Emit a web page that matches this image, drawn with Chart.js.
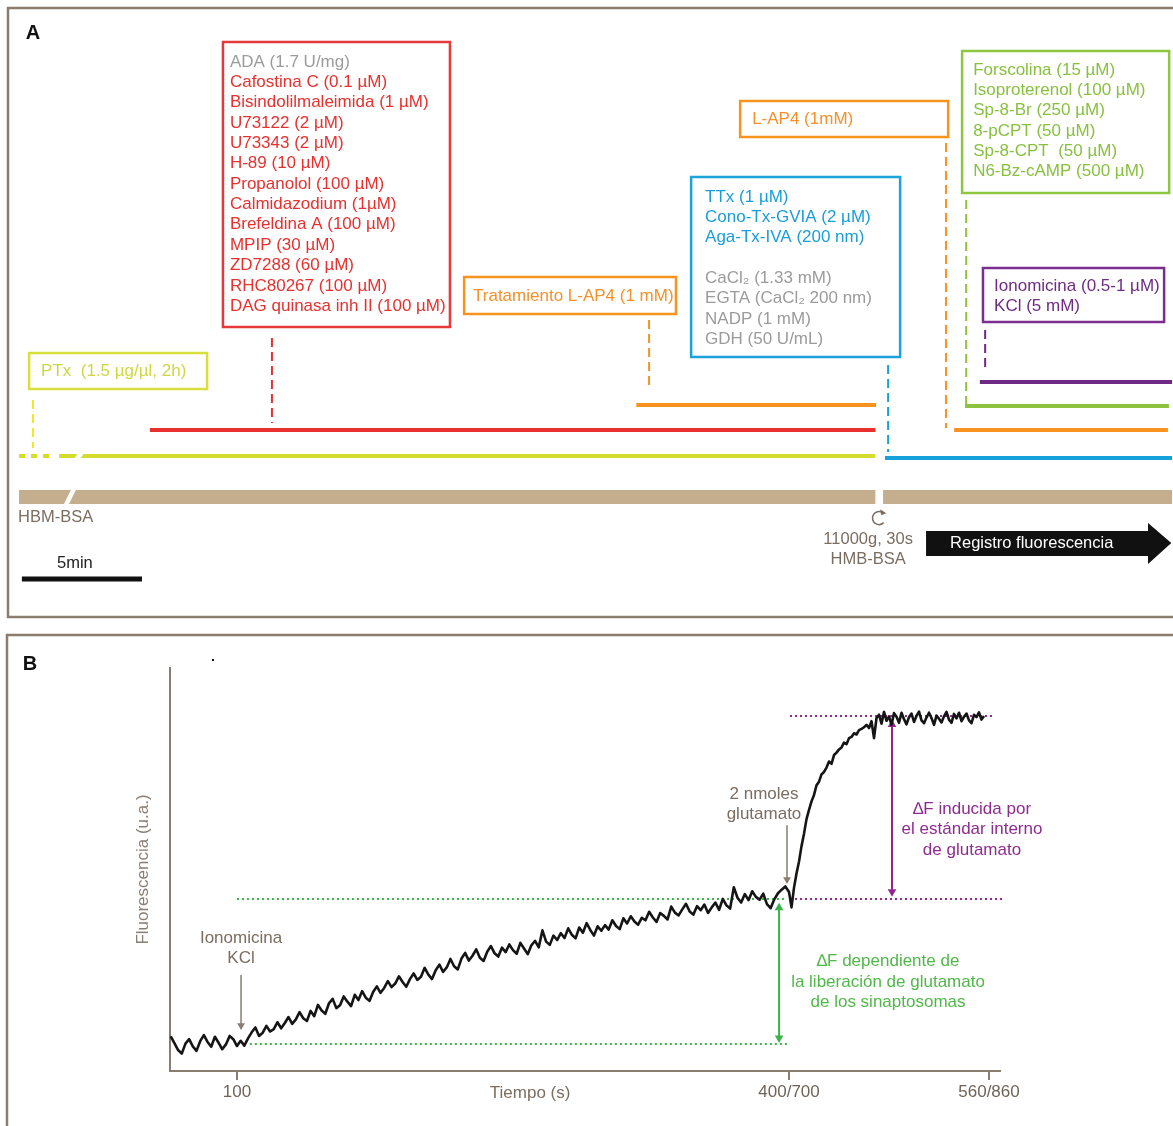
<!DOCTYPE html>
<html>
<head>
<meta charset="utf-8">
<script src="https://cdn.jsdelivr.net/npm/chart.js@4.4.0/dist/chart.umd.min.js"></script>
<style>
body { margin: 0; background: #fff; }
#wrap { position: relative; width: 1173px; height: 1126px; overflow: hidden; background: #fff; }
canvas { position: absolute; left: 0; }
#chartA { top: 0; }
#chartB { top: 625px; }
</style>
</head>
<body>
<div id="wrap">
<canvas id="chartA" width="1173" height="625"></canvas>
<canvas id="chartB" width="1173" height="501"></canvas>
</div>
<script>
var FONT = '"Liberation Sans", Arial, sans-serif';
var BROWN = '#8b7d6d';
var BROWN_TXT = '#7b6d60';
var GRAY = '#9b9b9b';

// ---------- panel A : protocol timeline (minutes) ----------
var treatNames = ['PTx', 'Inhibidores', 'Tratamiento L-AP4', 'Bloqueantes', 'L-AP4', 'AMPc', 'Ionomicina/KCl'];
var treatStart = [1.67, 5.45, 25.7, 36.05, 38.93, 39.38, 40.0];
var treatEnd   = [35.65, 35.65, 35.68, 48, 47.83, 47.87, 48];
var treatLane  = [1.64, 2.68, 3.68, 1.56, 2.68, 3.64, 4.6];
var ptxLeadEnd = 1.5;            // dotted part of the 2 h PTx incubation
var bufferStart = [0, 35.97];    // HBM-BSA, then spin and HMB-BSA
var bufferEnd   = [35.65, 48];
var scaleBar = [0.12, 5.12];     // 5 min

// dashed pointers from each label to its line
var connTime   = [0.58, 10.53, 26.23, 36.18, 38.59, 39.43, 40.22];
var connTop    = [3.88, 6.36, 7.08, 5.28, 14.16, 11.88, 6.68];
var connBottom = [1.96, 2.96, 4.36, 1.8, 2.76, 3.72, 5.0];

var boxLines = [
  ['PTx  (1.5 µg/µl, 2h)'],
  ['ADA (1.7 U/mg)', 'Cafostina C (0.1 µM)', 'Bisindolilmaleimida (1 µM)', 'U73122 (2 µM)', 'U73343 (2 µM)',
   'H-89 (10 µM)', 'Propanolol (100 µM)', 'Calmidazodium (1µM)', 'Brefeldina A (100 µM)', 'MPIP (30 µM)',
   'ZD7288 (60 µM)', 'RHC80267 (100 µM)', 'DAG quinasa inh II (100 µM)'],
  ['Tratamiento L-AP4 (1 mM)'],
  ['TTx (1 µM)', 'Cono-Tx-GVIA (2 µM)', 'Aga-Tx-IVA (200 nm)', '', 'CaCl\u2082 (1.33 mM)',
   'EGTA (CaCl\u2082 200 nm)', 'NADP (1 mM)', 'GDH (50 U/mL)'],
  ['L-AP4 (1mM)'],
  ['Forscolina (15 µM)', 'Isoproterenol (100 µM)', 'Sp-8-Br (250 µM)', '8-pCPT (50 µM)', 'Sp-8-CPT  (50 µM)', 'N6-Bz-cAMP (500 µM)'],
  ['Ionomicina (0.5-1 µM)', 'KCl (5 mM)']
];
var boxGray = [[], [0], [], [4, 5, 6, 7], [], [], []];

// styles / layout of panel A
var treatColor = ['#d4dc2c', '#e8312f', '#f7931e', '#17a1db', '#f7931e', '#8dc33f', '#6f2a86'];
var boxStroke  = ['#d8df3c', '#e43a3b', '#f7941d', '#1ca3dc', '#f7941d', '#8dc63f', '#7b2e8e'];
var boxText    = ['#cfd645', '#e8312f', '#f5902a', '#1a9dd9', '#f5902a', '#89c040', '#6f2b85'];
var connColor  = ['#f3e52a', '#e8312f', '#f7931e', '#17a1db', '#f7931e', '#8dc33f', '#6f2a86'];
var boxLeft   = [0.42, 8.49, 18.53, 27.98, 30.02, 39.26, 40.13];
var boxRight  = [7.83, 17.94, 27.35, 36.68, 38.68, 47.88, 47.67];
var boxTop    = [5.76, 18.2, 8.8, 12.8, 15.84, 17.84, 9.16];
var boxBottom = [4.32, 6.8, 7.32, 5.6, 14.4, 12.16, 7.0];
var boxTextX  = [0.92, 8.78, 18.9, 28.56, 30.52, 39.72, 40.59];
var boxFirst  = [5.04, 17.4, 8.04, 12.0, 15.12, 17.08, 8.44];
var lineStep = 0.814;

function seg(x0, x1, y0, y1) { return [{x: x0, y: y0}, {x: x1, y: y1}]; }

var dsA = [];
for (var i = 0; i < treatNames.length; i++) {
  dsA.push({ label: treatNames[i], data: seg(treatStart[i], treatEnd[i], treatLane[i], treatLane[i]),
    borderColor: treatColor[i], borderWidth: 4 });
}
dsA.push({ label: 'PTx 2h', data: seg(0, ptxLeadEnd, treatLane[0], treatLane[0]),
  borderColor: treatColor[0], borderWidth: 4, borderDash: [6, 6] });
for (var i = 0; i < bufferStart.length; i++) {
  dsA.push({ label: 'tampón', data: seg(bufferStart[i], bufferEnd[i], 0, 0), borderColor: '#c4ae8e', borderWidth: 14 });
}
for (var i = 0; i < connTime.length; i++) {
  dsA.push({ label: 'c' + i, data: seg(connTime[i], connTime[i], connTop[i], connBottom[i]),
    borderColor: connColor[i], borderWidth: 2, borderDash: [9, 5] });
}
dsA.push({ label: '5min', data: seg(scaleBar[0], scaleBar[1], -3.28, -3.28), borderColor: '#111', borderWidth: 5 });
dsA.forEach(function (d) { d.showLine = true; d.pointRadius = 0; d.borderCapStyle = 'butt'; d.clip = false; });

var panelA = {
  id: 'panelA',
  afterDatasetsDraw: function (chart) {
    var ctx = chart.ctx, xs = chart.scales.x, ys = chart.scales.y;
    var X = function (t) { return xs.getPixelForValue(t); };
    var Y = function (v) { return ys.getPixelForValue(v); };
    ctx.save();
    // break marks
    function brk(t, v, slant, half, h) {
      var cx = X(t), cy = Y(v);
      ctx.fillStyle = '#fff';
      ctx.beginPath();
      ctx.moveTo(cx + slant - half, cy - h); ctx.lineTo(cx + slant + half, cy - h);
      ctx.lineTo(cx - slant + half, cy + h); ctx.lineTo(cx - slant - half, cy + h);
      ctx.closePath(); ctx.fill();
    }
    brk(2.12, 0, 4, 2.5, 8);
    brk(2.5, treatLane[0], 2, 3, 3);

    // label boxes
    ctx.font = '17px ' + FONT; ctx.textBaseline = 'middle'; ctx.textAlign = 'left';
    for (var i = 0; i < boxLines.length; i++) {
      ctx.strokeStyle = boxStroke[i]; ctx.lineWidth = 2.5;
      ctx.strokeRect(X(boxLeft[i]), Y(boxTop[i]), X(boxRight[i]) - X(boxLeft[i]), Y(boxBottom[i]) - Y(boxTop[i]));
      for (var j = 0; j < boxLines[i].length; j++) {
        ctx.fillStyle = boxGray[i].indexOf(j) >= 0 ? GRAY : boxText[i];
        ctx.fillText(boxLines[i][j], X(boxTextX[i]), Y(boxFirst[i] - j * lineStep));
      }
    }

    // buffer labels
    ctx.fillStyle = BROWN_TXT; ctx.font = '16.5px ' + FONT;
    ctx.fillText('HBM-BSA', X(-0.04), Y(-0.8));
    ctx.textAlign = 'center';
    ctx.fillText('11000g, 30s', X(35.35), Y(-1.68));
    ctx.fillText('HMB-BSA', X(35.35), Y(-2.48));
    ctx.textAlign = 'left'; ctx.fillStyle = '#222';
    ctx.fillText('5min', X(1.58), Y(-2.64));

    // centrifuge symbol
    var cx = X(35.8), cy = Y(-0.84);
    ctx.strokeStyle = BROWN_TXT; ctx.lineWidth = 1.5;
    ctx.beginPath(); ctx.arc(cx, cy, 6.5, -Math.PI / 3, Math.PI / 4, true); ctx.stroke();
    var ax = cx + 6.5 * Math.cos(-Math.PI / 3), ay = cy + 6.5 * Math.sin(-Math.PI / 3);
    ctx.fillStyle = BROWN_TXT;
    ctx.beginPath(); ctx.moveTo(ax + 4, ay + 1); ctx.lineTo(ax - 2, ay - 3); ctx.lineTo(ax - 1, ay + 3); ctx.closePath(); ctx.fill();

    // recording arrow
    ctx.fillStyle = '#111';
    ctx.beginPath();
    ctx.moveTo(X(37.76), Y(-1.36)); ctx.lineTo(X(47.0), Y(-1.36)); ctx.lineTo(X(47.0), Y(-1.04));
    ctx.lineTo(X(47.97), Y(-1.84)); ctx.lineTo(X(47.0), Y(-2.68)); ctx.lineTo(X(47.0), Y(-2.36));
    ctx.lineTo(X(37.76), Y(-2.36)); ctx.closePath(); ctx.fill();
    ctx.fillStyle = '#fff'; ctx.font = '16.5px ' + FONT;
    ctx.fillText('Registro fluorescencia', X(38.76), Y(-1.84));
    ctx.restore();
  },
  afterDraw: function (chart) {
    var ctx = chart.ctx;
    ctx.save();
    ctx.strokeStyle = BROWN; ctx.lineWidth = 2.5;
    ctx.strokeRect(8, 8, 1190, 609);
    ctx.fillStyle = '#111'; ctx.font = 'bold 20px ' + FONT;
    ctx.textAlign = 'center'; ctx.textBaseline = 'middle';
    ctx.fillText('A', 33, 33);
    ctx.restore();
  }
};

new Chart(document.getElementById('chartA'), {
  type: 'scatter',
  data: { datasets: dsA },
  options: {
    responsive: false, animation: false, events: [],
    layout: { padding: 0 },
    plugins: { legend: { display: false }, tooltip: { enabled: false } },
    scales: {
      x: { type: 'linear', display: false, min: -0.791, max: 48.04 },
      y: { type: 'linear', display: false, min: -5.12, max: 19.88 }
    }
  },
  plugins: [panelA]
});

// ---------- panel B : fluorescence trace ----------
var tickValues = [100, 400, 560];
var tickLabels = ['100', '400/700', '560/860'];
var traceTime = [
  64, 66, 68, 70, 72, 74, 76, 78, 80, 82,
  84, 86, 88, 90, 92, 94, 96, 98, 100, 102,
  104, 106, 108, 110, 112, 114, 116, 118, 120, 122,
  124, 126, 128, 130, 132, 134, 136, 138, 140, 142,
  144, 146, 148, 150, 152, 154, 156, 158, 160, 162,
  164, 166, 168, 170, 172, 174, 176, 178, 180, 182,
  184, 186, 188, 190, 192, 194, 196, 198, 200, 202,
  204, 206, 208, 210, 212, 214, 216, 218, 220, 222,
  224, 226, 228, 230, 232, 234, 236, 238, 240, 242,
  244, 246, 248, 250, 252, 254, 256, 258, 260, 262,
  264, 266, 268, 270, 272, 274, 276, 278, 280, 282,
  284, 286, 288, 290, 292, 294, 296, 298, 300, 302,
  304, 306, 308, 310, 312, 314, 316, 318, 320, 322,
  324, 326, 328, 330, 332, 334, 336, 338, 340, 342,
  344, 346, 348, 350, 352, 354, 356, 358, 360, 362,
  364, 366, 368, 370, 372, 374, 376, 378, 380, 382,
  384, 386, 388, 390, 392, 394, 396, 398, 400,
  402, 404, 406, 408, 410, 412, 414, 416, 418, 420,
  422, 424, 426, 428, 430, 432, 434, 436, 438, 440,
  442, 444, 446, 448, 450, 452, 454, 456, 458, 460,
  462, 464, 466, 468, 470, 472, 474, 476, 478, 480,
  482, 484, 486, 488, 490, 492, 494, 496, 498, 500,
  502, 504, 506, 508, 510, 512, 514, 516, 518, 520,
  522, 524, 526, 528, 530, 532, 534, 536, 538, 540,
  542, 544, 546, 548, 550, 552, 554, 556
];
var traceF = [
  8.6, 6.9, 5.2, 4.3, 6.8, 7.9, 6.1, 5.0, 7.4, 8.9,
  7.2, 6.0, 8.5, 7.0, 5.4, 6.6, 8.7, 7.9, 6.2, 7.5,
  6.3, 8.1, 9.6, 10.8, 8.7, 9.5, 11.2, 9.8, 10.4, 12.1,
  10.6, 11.9, 13.4, 11.7, 12.8, 14.6, 13.1, 12.4, 14.9, 13.6,
  16.4, 15.0, 14.2, 16.8, 17.9, 15.6, 16.3, 18.5, 17.2, 16.1,
  18.9, 17.6, 19.8, 18.2, 17.4, 19.6, 21.0, 19.4, 20.6, 22.3,
  20.8, 21.7, 23.5, 22.1, 20.9, 22.8, 24.2, 22.6, 23.4, 25.6,
  23.9, 22.8, 25.0, 26.4, 24.6, 25.7, 27.8, 26.0, 25.2, 27.9,
  29.3, 27.4, 28.6, 30.2, 28.1, 27.3, 29.6, 31.0, 29.2, 28.4,
  30.6, 29.5, 31.4, 30.0, 29.1, 31.8, 30.4, 29.0, 31.2, 32.3,
  30.7, 34.9, 32.1, 31.3, 33.6, 32.5, 34.2, 33.0, 35.4, 33.8,
  32.9, 35.6, 34.3, 36.7, 35.0, 33.6, 35.9, 34.8, 36.2, 35.1,
  37.4, 36.0, 35.2, 37.9, 36.6, 38.4, 37.1, 36.3, 38.0, 37.4,
  39.5, 38.1, 37.0, 39.2, 38.5, 37.6, 40.8, 39.3, 38.6, 40.1,
  41.5, 39.6, 38.8, 40.9, 39.9, 41.3, 39.2, 40.6, 41.8, 40.0,
  42.7, 41.1, 40.3, 45.6, 43.0, 41.8, 43.9, 42.4, 44.6, 43.2,
  42.5, 44.0, 41.4, 40.4, 42.6, 44.1, 45.0, 45.8, 44.4,
  40.6, 45.5, 49.0, 52.0, 55.8, 58.9, 62.5, 64.8, 66.9, 68.5,
  70.9, 71.8, 73.6, 74.2, 75.3, 76.8, 76.2, 78.4, 79.0, 79.8,
  80.3, 81.5, 81.1, 82.6, 82.9, 83.8, 83.5, 84.6, 84.9, 85.3,
  85.9, 85.1, 86.8, 82.6, 87.6, 88.4, 86.2, 89.1, 86.9, 88.0,
  85.9, 88.8, 87.9, 86.4, 88.9, 87.3, 86.0, 87.8, 88.7, 86.6,
  88.1, 89.2, 87.0, 86.3, 87.7, 88.9, 87.6, 85.9, 88.2, 87.4,
  86.5, 88.0, 89.1, 87.2, 86.4, 88.6, 87.5, 88.9, 86.8, 87.9,
  88.7, 87.0, 86.3, 88.4, 87.8, 89.0, 87.2, 88.1
];
var baseF = 6.7, stimF = 42.7, stdF = 88.1;   // reference levels

// the time axis is drawn with a break at 400 s
var xBreak = 400, xBreakFrac = 0.7458;
class BrokenScale extends Chart.LinearScale {
  getPixelForValue(value) {
    var f = value <= xBreak
      ? xBreakFrac * (value - this.min) / (xBreak - this.min)
      : xBreakFrac + (1 - xBreakFrac) * (value - xBreak) / (this.max - xBreak);
    return this.getPixelForDecimal(f);
  }
}
BrokenScale.id = 'broken';
BrokenScale.defaults = Chart.LinearScale.defaults;
Chart.register(BrokenScale);

var trace = traceTime.map(function (t, i) { return {x: t, y: traceF[i]}; });
var GREEN = '#3cb44b', PURPLE = '#93278f';
var dsB = [
  { label: 'Fluorescencia', data: trace, borderColor: '#151515', borderWidth: 2.6, borderJoinStyle: 'round' },
  { label: 'g1', data: seg(100, 398.9, stimF, stimF), borderColor: GREEN, borderWidth: 2, borderDash: [2, 3] },
  { label: 'p1', data: seg(400.8, 570.4, stimF, stimF), borderColor: PURPLE, borderWidth: 2, borderDash: [2, 3] },
  { label: 'g0', data: seg(107, 400.8, baseF, baseF), borderColor: GREEN, borderWidth: 2, borderDash: [2, 3] },
  { label: 'p2', data: seg(400.8, 563.2, stdF, stdF), borderColor: PURPLE, borderWidth: 2, borderDash: [2, 3] },
  { label: 'dF1', data: seg(394.6, 394.6, 40.5, 8.2), borderColor: GREEN, borderWidth: 2,
    pointStyle: 'triangle', pointRadius: 5, pointRotation: [0, 180], pointBackgroundColor: GREEN, pointBorderWidth: 0 },
  { label: 'dF2', data: seg(482.4, 482.4, 86.0, 44.5), borderColor: PURPLE, borderWidth: 2,
    pointStyle: 'triangle', pointRadius: 5, pointRotation: [0, 180], pointBackgroundColor: PURPLE, pointBorderWidth: 0 },
  { label: 'iono', data: seg(102.2, 102.2, 23.8, 11.3), borderColor: BROWN, borderWidth: 1.5,
    pointStyle: 'triangle', pointRadius: [0, 4.5], pointRotation: 180, pointBackgroundColor: BROWN, pointBorderWidth: 0 },
  { label: 'glu', data: seg(398.9, 398.9, 61.0, 47.5), borderColor: BROWN, borderWidth: 1.5,
    pointStyle: 'triangle', pointRadius: [0, 4.5], pointRotation: 180, pointBackgroundColor: BROWN, pointBorderWidth: 0 }
];
dsB.forEach(function (d) {
  d.showLine = true; d.clip = false;
  if (!d.borderJoinStyle) d.borderCapStyle = 'butt';
  if (d.pointRadius === undefined) d.pointRadius = 0;
});

var annText  = ['Ionomicina', 'KCl', '2 nmoles', 'glutamato',
                '\u2206F inducida por', 'el estándar interno', 'de glutamato',
                '\u2206F dependiente de', 'la liberación de glutamato', 'de los sinaptosomas'];
var annX     = [102.2, 102.2, 386.4, 386.4, 546.4, 546.4, 546.4, 479.2, 479.2, 479.2];
var annY     = [33.0, 28.0, 68.7, 63.8, 65.0, 60.0, 54.8, 27.3, 22.1, 17.1];
var annColor = [BROWN_TXT, BROWN_TXT, BROWN_TXT, BROWN_TXT, '#8e2c8f', '#8e2c8f', '#8e2c8f', '#50b848', '#50b848', '#50b848'];

var panelB = {
  id: 'panelB',
  afterDraw: function (chart) {
    var ctx = chart.ctx, xs = chart.scales.x, ys = chart.scales.y;
    ctx.save();
    ctx.font = '17px ' + FONT; ctx.textAlign = 'center'; ctx.textBaseline = 'middle';
    for (var i = 0; i < annText.length; i++) {
      ctx.fillStyle = annColor[i];
      ctx.fillText(annText[i], xs.getPixelForValue(annX[i]), ys.getPixelForValue(annY[i]));
    }
    ctx.fillStyle = BROWN_TXT;
    ctx.fillText('Tiempo (s)', xs.getPixelForValue(259.3), ys.getPixelForValue(-5.46));
    ctx.strokeStyle = BROWN; ctx.lineWidth = 2.5;
    ctx.strokeRect(7, 10, 1200, 600);
    ctx.fillStyle = '#111'; ctx.font = 'bold 20px ' + FONT;
    ctx.fillText('B', 30, 39);
    ctx.fillRect(212, 34, 2, 2);
    ctx.restore();
  }
};

new Chart(document.getElementById('chartB'), {
  type: 'scatter',
  data: { datasets: dsB },
  options: {
    responsive: false, animation: false, events: [],
    layout: { padding: { left: 129, top: 43, right: 173, bottom: 0 } },
    plugins: { legend: { display: false }, tooltip: { enabled: false } },
    scales: {
      x: {
        type: 'broken', min: 63.6, max: 568.8,
        afterBuildTicks: function (s) { s.ticks = tickValues.map(function (v) { return {value: v}; }); },
        afterFit: function (s) { s.height = 55; },
        ticks: { callback: function (v, i) { return tickLabels[i]; }, color: '#6f6457',
                 font: { size: 17, family: FONT }, padding: 2, maxRotation: 0, autoSkip: false },
        grid: { display: true, drawOnChartArea: false, drawTicks: true, tickLength: 9, color: BROWN, lineWidth: 2 },
        border: { display: true, color: BROWN, width: 2 }
      },
      y: {
        type: 'linear', min: 0, max: 100,
        afterFit: function (s) { s.width = 41; },
        ticks: { display: false },
        grid: { display: false },
        border: { display: true, color: BROWN, width: 2 },
        title: { display: true, text: 'Fluorescencia (u.a.)', color: '#8a7e72',
                 font: { size: 17, family: FONT }, padding: { top: 4, bottom: 0 } }
      }
    }
  },
  plugins: [panelB]
});
</script>
</body>
</html>
